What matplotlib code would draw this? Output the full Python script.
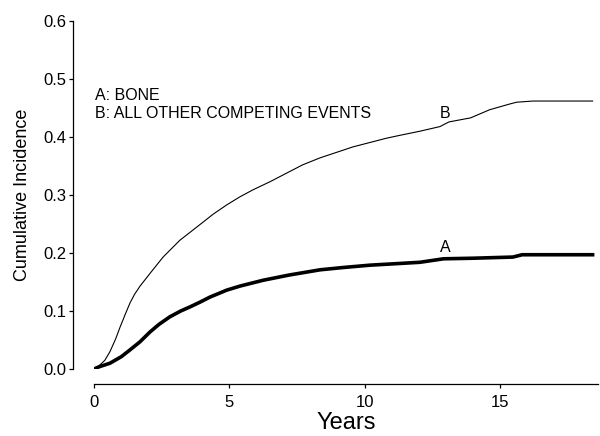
import matplotlib.pyplot as plt

plt.rcParams['font.family'] = ['Liberation Sans', 'DejaVu Sans']

# Curve A: bone
years_a = [0.0, 0.2, 0.59, 1.0, 1.33, 1.7, 2.07, 2.4, 2.8, 3.2, 3.54, 3.9, 4.28, 4.9, 5.39,
           6.24, 7.2, 8.34, 9.2, 10.18, 11.3, 12.03, 12.9, 14.0, 15.46, 15.8, 16.5, 18.4]
inc_a = [0.0, 0.004, 0.01, 0.021, 0.033, 0.047, 0.064, 0.077, 0.09, 0.1, 0.107, 0.115, 0.124,
         0.136, 0.143, 0.153, 0.162, 0.171, 0.175, 0.179, 0.182, 0.184, 0.19, 0.191, 0.193,
         0.197, 0.197, 0.197]

# Curve B: all other competing events
years_b = [0.0, 0.22, 0.4, 0.59, 0.8, 0.96, 1.15, 1.33, 1.5, 1.7, 2.07, 2.55, 3.17, 3.8, 4.4,
           4.9, 5.39, 5.87, 6.5, 7.12, 7.7, 8.34, 9.56, 10.8, 11.3, 12.03, 12.77, 13.1, 13.9,
           14.6, 15.35, 15.6, 16.2, 18.4]
inc_b = [0.0, 0.007, 0.015, 0.03, 0.052, 0.072, 0.094, 0.114, 0.129, 0.143, 0.165, 0.193,
         0.222, 0.245, 0.267, 0.283, 0.297, 0.309, 0.323, 0.338, 0.352, 0.364, 0.383, 0.398,
         0.403, 0.41, 0.418, 0.426, 0.433, 0.447, 0.457, 0.46, 0.462, 0.462]

fig = plt.figure(figsize=(6, 4.36), dpi=100)
ax = fig.add_axes([94 / 600, 1 - 369 / 436, 504 / 600, 348 / 436])

ax.plot(years_b, inc_b, color='black', linewidth=0.8)
ax.plot(years_a, inc_a, color='black', linewidth=2.6)

ax.set_xlim(0, 18.6)
ax.set_ylim(0, 0.6)
ax.set_xticks([0, 5, 10, 15])
ax.set_yticks([0.0, 0.1, 0.2, 0.3, 0.4, 0.5, 0.6])
ax.set_yticklabels(['0.0', '0.1', '0.2', '0.3', '0.4', '0.5', '0.6'])

for s in ['top', 'right']:
    ax.spines[s].set_visible(False)
ax.spines['left'].set_position(('outward', 15))
ax.spines['bottom'].set_position(('outward', 11))
ax.spines['left'].set_bounds(0, 0.6)
ax.spines['left'].set_linewidth(0.9)
ax.spines['bottom'].set_linewidth(0.9)
ax.tick_params(direction='out', length=3, width=0.9, labelsize=12)
ax.tick_params(axis='x', pad=5)
ax.tick_params(axis='y', pad=2)

ax.set_xlabel('Years', fontsize=17, labelpad=1)
ax.set_ylabel('Cumulative Incidence', fontsize=13, labelpad=9)

ax.text(0.05, 0.471, 'A: BONE', fontsize=11.5, va='center')
ax.text(0.05, 0.441, 'B: ALL OTHER COMPETING EVENTS', fontsize=11.5, va='center')
ax.text(12.95, 0.441, 'B', fontsize=11.5, ha='center', va='center')
ax.text(12.95, 0.21, 'A', fontsize=11.5, ha='center', va='center')

fig.savefig('out.png', dpi=100)
